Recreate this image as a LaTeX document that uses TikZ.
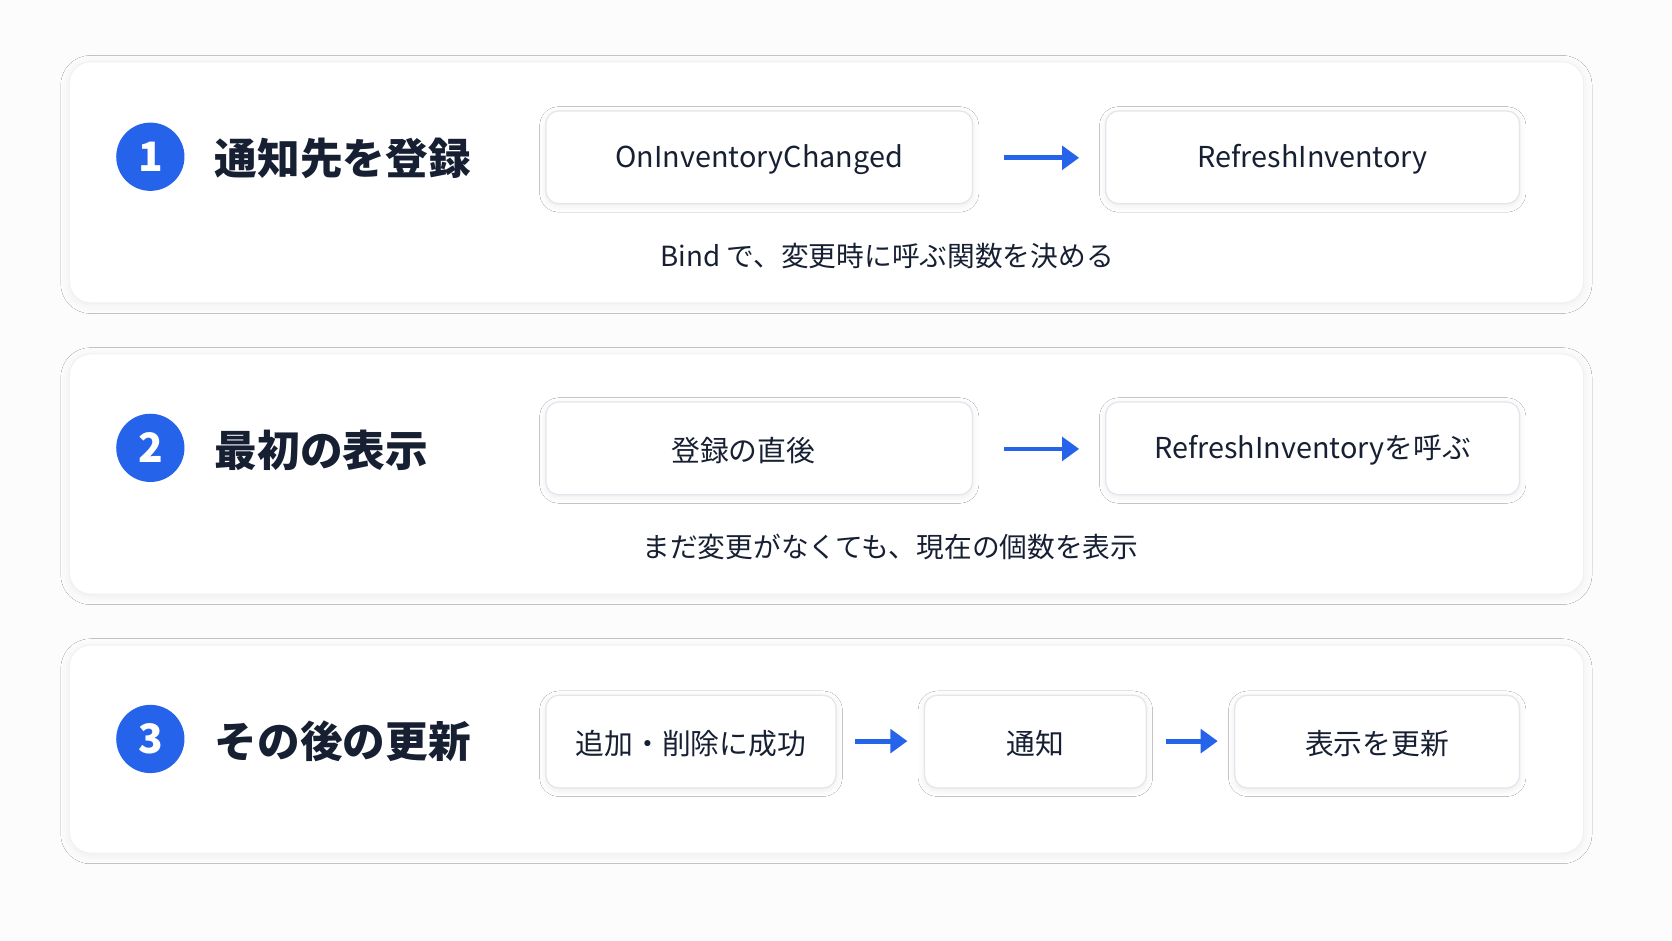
\documentclass[tikz,border=0pt]{standalone}
\usepackage{fontspec}
\setmainfont{Noto Sans CJK JP}
\usetikzlibrary{arrows.meta,shadows.blur}
\definecolor{navy}{HTML}{172033}
\definecolor{blu}{HTML}{2563EB}
\definecolor{edge}{HTML}{E3E6EC}
\begin{document}
\begin{tikzpicture}[x=1pt,y=-1pt,
 panel/.style={draw=edge!60,line width=0.8pt,fill=white,rounded corners=20pt,blur shadow={shadow xshift=0pt,shadow yshift=-2pt,shadow blur radius=8pt,shadow blur steps=8,shadow opacity=6}},
 box/.style={draw=edge,line width=1.2pt,fill=white,rounded corners=12pt,blur shadow={shadow xshift=0pt,shadow yshift=-2pt,shadow blur radius=6pt,shadow blur steps=6,shadow opacity=8}},
 btxt/.style={text=navy,font=\fontsize{27}{30}\selectfont,yshift=-2pt},
 num/.style={circle,fill=blu,minimum size=64pt,inner sep=0pt,text=white,font=\bfseries\fontsize{38}{40}\selectfont},
 ttl/.style={anchor=west,text=navy,font=\bfseries\fontsize{40}{44}\selectfont},
 captxt/.style={text=navy,font=\fontsize{26}{30}\selectfont},
 arr/.style={draw=blu,line width=4.5pt,-{Triangle[length=16pt,width=22pt]}}]
\fill[white!98!gray] (0,0) rectangle (1568,882);
\useasboundingbox (0,0) rectangle (1568,882);
% panels
\path[panel] (65,58) rectangle (1485,284);
\path[panel] (65,332) rectangle (1485,557);
\path[panel] (65,605) rectangle (1485,800);
% row 1
\node[num] (n1) at (141,147) {1};
\node[ttl] (t1) at (198,149) {通知先を登録};
\path[box] (512,104) rectangle (912,191) node[midway,btxt] (a1) {OnInventoryChanged};
\path[box] (1037,104) rectangle (1425,191) node[midway,btxt] (b1) {RefreshInventory};
\coordinate (a1e) at (912,148); \coordinate (b1w) at (1037,148);
\draw[arr] ([xshift=30pt]a1e) -- ([xshift=-25pt]b1w);
\node[captxt] (c1) at (832,240) {Bind で、変更時に呼ぶ関数を決める};
% row 2
\node[num] (n2) at (141,420) {2};
\node[ttl] (t2) at (198,422) {最初の表示};
\path[box] (512,377) rectangle (912,464) node[midway,btxt,xshift=-15pt] (a2) {登録の直後};
\path[box] (1037,377) rectangle (1425,464) node[midway,btxt] (b2) {RefreshInventoryを呼ぶ};
\coordinate (a2e) at (912,421); \coordinate (b2w) at (1037,421);
\draw[arr] ([xshift=30pt]a2e) -- ([xshift=-25pt]b2w);
\node[captxt] (c2) at (835,513) {まだ変更がなくても、現在の個数を表示};
% row 3
\node[num] (n3) at (141,693) {3};
\node[ttl] (t3) at (198,695) {その後の更新};
\path[box] (512,652) rectangle (784,739) node[midway,btxt] (a3) {追加・削除に成功};
\path[box] (867,652) rectangle (1075,739) node[midway,btxt] (b3) {通知};
\path[box] (1158,652) rectangle (1425,739) node[midway,btxt] (d3) {表示を更新};
\coordinate (a3e) at (784,695); \coordinate (b3w) at (867,695);
\coordinate (b3e) at (1075,695); \coordinate (d3w) at (1158,695);
\draw[arr] ([xshift=18pt]a3e) -- ([xshift=-16pt]b3w);
\draw[arr] ([xshift=18pt]b3e) -- ([xshift=-16pt]d3w);
\end{tikzpicture}
\end{document}
